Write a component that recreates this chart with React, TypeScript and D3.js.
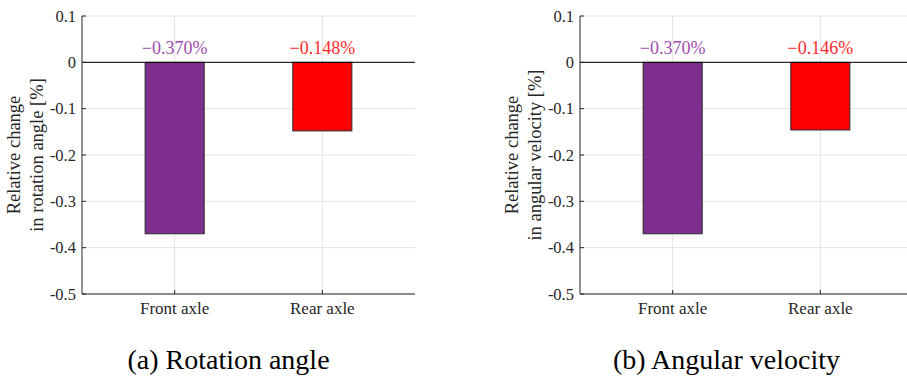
import React from 'react';
import * as d3 from 'd3';

const categories = ["Front axle", "Rear axle"];
const rotationValues = [-0.370, -0.148];
const velocityValues = [-0.370, -0.146];
const yTicks = [0.1, 0, -0.1, -0.2, -0.3, -0.4, -0.5];
const barColors = ["#7E2F8E", "#FF0000"];
const labelColors = ["#9E4DAE", "#FF2B2B"];

const panels = [
  { values: rotationValues, ylabel: ["Relative change", "in rotation angle [%]"], caption: "(a) Rotation angle", x0: 0 },
  { values: velocityValues, ylabel: ["Relative change", "in angular velocity [%]"], caption: "(b) Angular velocity", x0: 498 },
];

const FONT = "Liberation Serif";
const AXIS = "#262626";

const plotLeft = 82;
const plotWidth = 333;
const top = 16;
const bottom = 294;

const y = d3.scaleLinear().domain([-0.5, 0.1]).range([bottom, top]);
const x = d3.scaleBand()
  .domain(categories)
  .range([plotLeft, plotLeft + plotWidth])
  .paddingInner(0.6)
  .paddingOuter(0.4275);
const cx = (c: string) => (x(c) as number) + x.bandwidth() / 2;
const fmtTick = (d: number) => (d === 0 ? "0" : d.toFixed(1));
const fmtLabel = (d: number) => (d < 0 ? "\u2212" : "") + Math.abs(d).toFixed(3) + "%";

function Panel({ p }: { p: typeof panels[0] }) {
  const midY = (top + bottom) / 2;
  return (
    <g transform={`translate(${p.x0},0)`} fontFamily={FONT}>
      {/* grid */}
      {yTicks.map(t => (
        <line key={"h" + t} x1={plotLeft} x2={plotLeft + plotWidth} y1={y(t)} y2={y(t)} stroke="#e3e3e3" />
      ))}
      {categories.map(c => (
        <line key={"v" + c} x1={cx(c)} x2={cx(c)} y1={top} y2={bottom} stroke="#e3e3e3" />
      ))}

      {/* bars */}
      {p.values.map((v, i) => (
        <rect key={i} x={x(categories[i])} width={x.bandwidth()} y={y(0)} height={y(v) - y(0)}
          fill={barColors[i]} stroke="#2a2a2a" strokeWidth={1} />
      ))}

      {/* zero line */}
      <line x1={plotLeft} x2={plotLeft + plotWidth} y1={y(0)} y2={y(0)} stroke="#000" />

      {/* value labels */}
      {p.values.map((v, i) => (
        <text key={"l" + i} x={cx(categories[i])} y={y(0) - 8.5} textAnchor="middle" fontFamily={FONT}
          fontSize={18} fill={labelColors[i]}>{fmtLabel(v)}</text>
      ))}

      {/* y axis */}
      <line x1={plotLeft} x2={plotLeft} y1={top} y2={bottom} stroke={AXIS} />
      {yTicks.map(t => (
        <g key={"yt" + t} transform={`translate(${plotLeft},${y(t)})`}>
          <line x1={0} x2={4} stroke={AXIS} />
          <text x={-6} dy="0.34em" textAnchor="end" fontFamily={FONT} fontSize={16.5} fill={AXIS}>{fmtTick(t)}</text>
        </g>
      ))}

      {/* x axis */}
      <line x1={plotLeft} x2={plotLeft + plotWidth} y1={bottom} y2={bottom} stroke={AXIS} />
      {categories.map(c => (
        <g key={"xt" + c} transform={`translate(${cx(c)},${bottom})`}>
          <line y1={0} y2={-4} stroke={AXIS} />
          <text y={20} textAnchor="middle" fontFamily={FONT} fontSize={17} fill={AXIS}>{c}</text>
        </g>
      ))}

      {/* y label */}
      {p.ylabel.map((line, i) => (
        <text key={"yl" + i} transform={`translate(${plotLeft - 62 + i * 22.5},${midY}) rotate(-90)`}
          textAnchor="middle" fontFamily={FONT} fontSize={18.5} fill={AXIS}>{line}</text>
      ))}

      {/* caption */}
      <text x={plotLeft + 146.5} y={369} textAnchor="middle" fontFamily={FONT} fontSize={28} fill="#000">{p.caption}</text>
    </g>
  );
}

export default function App() {
  return (
    <svg width={907} height={382} style={{ position: 'absolute', left: 0, top: 0, background: '#fff' }}>
      {panels.map(p => <Panel key={p.caption} p={p} />)}
    </svg>
  );
}
